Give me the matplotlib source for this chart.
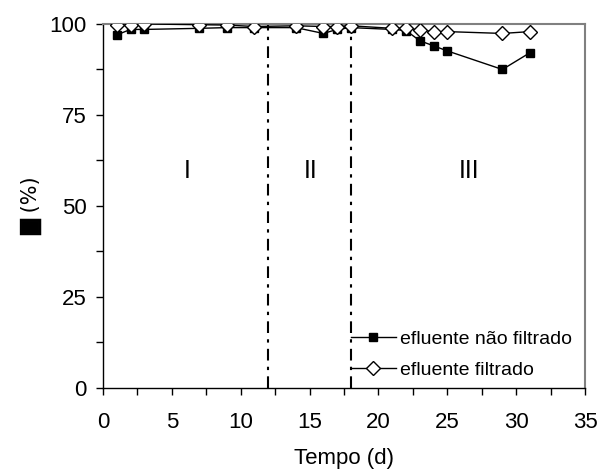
import matplotlib
matplotlib.use("Agg")
import matplotlib.pyplot as plt
from matplotlib.ticker import MultipleLocator

plt.rcParams['font.family'] = ['Liberation Sans', 'DejaVu Sans']

# Data
dias = [1, 2, 3, 7, 9, 11, 14, 16, 17, 18, 21, 22, 23, 24, 25, 29, 31]
nao_filtrado = [97.0, 98.5, 98.5, 98.8, 99.0, 99.0, 99.0, 97.4, 98.5, 99.0,
                98.5, 98.2, 95.4, 94.0, 92.6, 87.5, 92.1]
filtrado = [99.6, 99.7, 100.0, 99.8, 99.7, 99.3, 99.5, 99.3, 99.3, 99.5,
            98.8, 98.8, 98.4, 97.9, 97.9, 97.4, 97.9]
fases = ['I', 'II', 'III']
fase_x = [6.1, 15.1, 26.6]
fase_y = 59.7
limites = [12, 18]
serie_nomes = ['efluente não filtrado', 'efluente filtrado']

fig = plt.figure(figsize=(6.01, 4.70), dpi=100)
ax = fig.add_axes([0.1714, 0.1745, 0.8020, 0.7745])

ax.plot(dias, nao_filtrado, color='black', lw=1.0, marker='s', ms=6,
        mfc='black', mec='black', label=serie_nomes[0], zorder=3)
ax.plot(dias, filtrado, color='black', lw=1.0, marker='D', ms=7,
        mfc='white', mec='black', mew=1.0, label=serie_nomes[1], zorder=4)

for xv in limites:
    ax.axvline(xv, color='black', lw=1.5, linestyle=(0, (5.6, 3.0, 1.6, 3.0)), zorder=2)

for t, xv in zip(fases, fase_x):
    ax.text(xv, fase_y, t, ha='center', va='center', fontsize=18)

ax.set_xlim(0, 35)
ax.set_ylim(0, 100)
ax.xaxis.set_major_locator(MultipleLocator(5))
ax.xaxis.set_minor_locator(MultipleLocator(2.5))
ax.yaxis.set_major_locator(MultipleLocator(25))
ax.yaxis.set_minor_locator(MultipleLocator(12.5))
ax.tick_params(which='both', direction='out', length=5, width=1, colors='black',
               labelsize=16)
ax.tick_params(axis='x', pad=12)
ax.tick_params(axis='y', pad=7)

for s in ['top', 'right']:
    ax.spines[s].set_color('#808080')
    ax.spines[s].set_linewidth(1.5)
for s in ['left', 'bottom']:
    ax.spines[s].set_color('black')
    ax.spines[s].set_linewidth(1.0)

ax.set_xlabel('Tempo (d)', fontsize=16, labelpad=11)
ax.set_ylabel('█ (%)', fontsize=15, labelpad=5, family=['DejaVu Sans'])

leg = ax.legend(loc='lower left', bbox_to_anchor=(0.49, -0.008), frameon=False,
                fontsize=14, handlelength=2.3, handletextpad=0.25, labelspacing=0.7,
                borderaxespad=0.2)

fig.savefig('out.png', dpi=100)
